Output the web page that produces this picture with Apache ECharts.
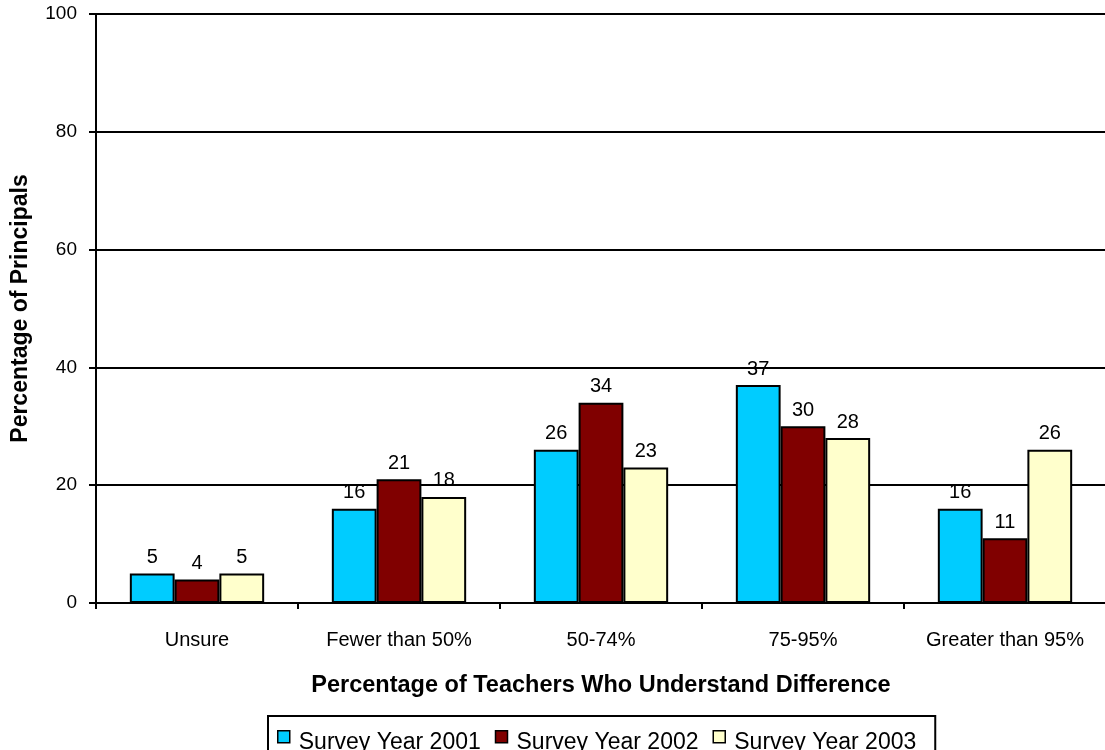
<!DOCTYPE html>
<html>
<head>
<meta charset="utf-8">
<script src="https://cdn.jsdelivr.net/npm/echarts@6/dist/echarts.min.js"></script>
<style>
  html, body { margin: 0; padding: 0; background: #fff; }
  #main { width: 1105px; height: 750px; }
</style>
</head>
<body>
<div id="main"></div>
<script>
// categories and values
var categories = ['Unsure', 'Fewer than 50%', '50-74%', '75-95%', 'Greater than 95%'];
var year2001 = [5, 16, 26, 37, 16];
var year2002 = [4, 21, 34, 30, 11];
var year2003 = [5, 18, 23, 28, 26];
var seriesNames = ['Survey Year 2001', 'Survey Year 2002', 'Survey Year 2003'];
var colors = ['#00CCFF', '#800000', '#FFFFCC'];

var chart = echarts.init(document.getElementById('main'));

function makeSeries(name, data, color) {
	return {
		name: name,
		type: 'bar',
		data: data,
		barGap: '0%',
		barCategoryGap: '33.5%',
		itemStyle: { color: color, borderColor: '#000', borderWidth: 2 },
		label: {
			show: true,
			position: 'top',
			distance: 6,
			color: '#000',
			fontSize: 20
		},
		emphasis: { disabled: true }
	};
}

var option = {
	backgroundColor: '#fff',
	animation: false,
	textStyle: { fontFamily: 'Liberation Sans, Arial, sans-serif' },
	grid: { left: 96, top: 14, width: 1010, height: 589, containLabel: false, outerBoundsMode: 'none' },
	legend: {
		data: seriesNames,
		top: 716,
		left: 268,
		itemWidth: 12,
		itemHeight: 12,
		itemGap: 14,
		padding: [14, 19, 6, 9],
		borderColor: '#000',
		borderWidth: 2,
		icon: 'rect',
		formatter: '{t|{name}}',
		textStyle: {
			color: '#000',
			fontSize: 23,
			rich: { t: { fontSize: 23, color: '#000', padding: [12, 0, 0, 4] } }
		},
		itemStyle: { borderColor: '#000', borderWidth: 1.5 }
	},
	xAxis: {
		type: 'category',
		data: categories,
		name: 'Percentage of Teachers Who Understand Difference',
		nameLocation: 'middle',
		nameGap: 71,
		nameTextStyle: { color: '#000', fontSize: 23.5, fontWeight: 'bold' },
		axisLine: { lineStyle: { color: '#000', width: 2 } },
		axisTick: { show: true, interval: 0, length: 6, lineStyle: { color: '#000', width: 2 } },
		axisLabel: { color: '#000', fontSize: 20, margin: 27, interval: 0 }
	},
	yAxis: {
		type: 'value',
		min: 0,
		max: 100,
		interval: 20,
		name: 'Percentage of Principals',
		nameLocation: 'middle',
		nameGap: 64,
		nameTextStyle: { color: '#000', fontSize: 23, fontWeight: 'bold' },
		axisLine: { show: true, lineStyle: { color: '#000', width: 2 } },
		axisTick: { show: true, length: 7, lineStyle: { color: '#000', width: 2 } },
		axisLabel: { color: '#000', fontSize: 19, margin: 19 },
		splitLine: { show: true, lineStyle: { color: '#000', width: 2 } }
	},
	series: [
		makeSeries(seriesNames[0], year2001, colors[0]),
		makeSeries(seriesNames[1], year2002, colors[1]),
		makeSeries(seriesNames[2], year2003, colors[2])
	]
};
chart.setOption(option);
</script>
</body>
</html>
